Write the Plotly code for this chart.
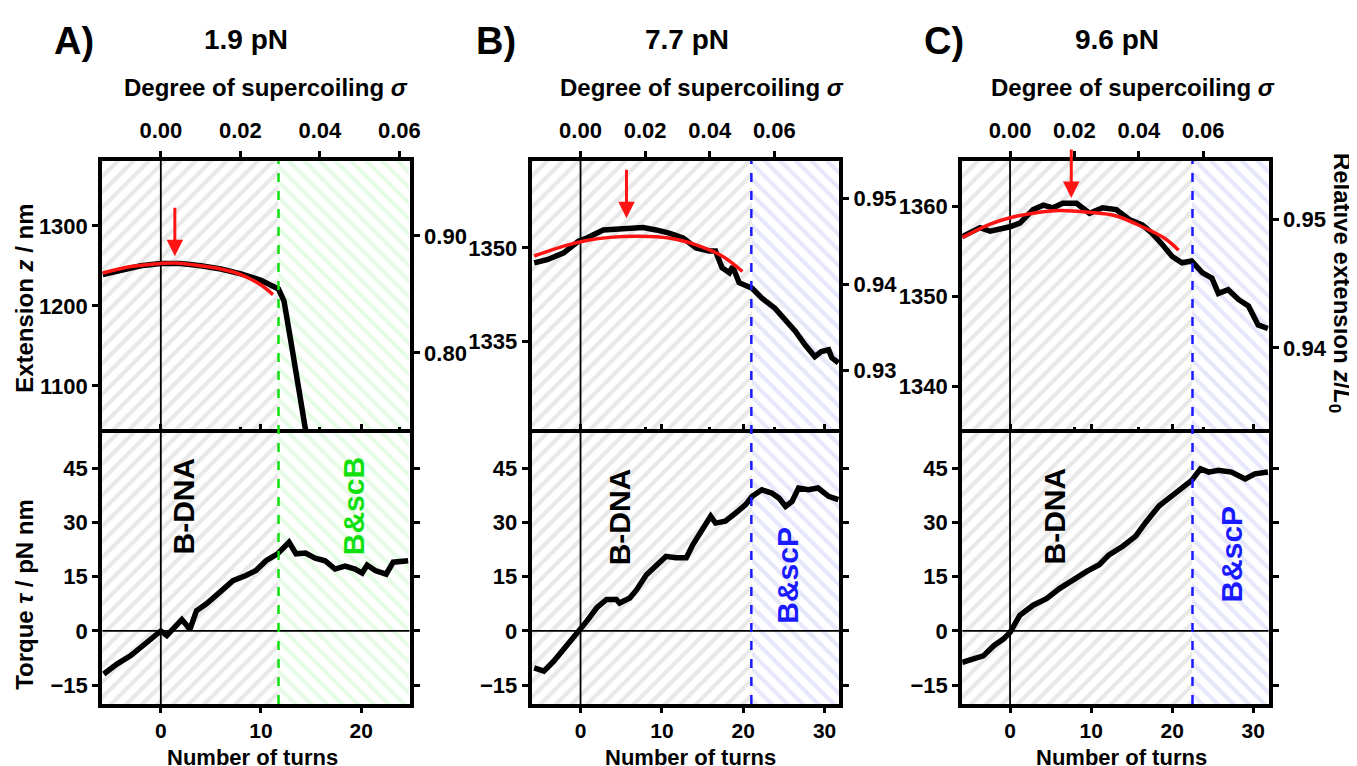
import plotly.graph_objects as go

# ---------------- data ----------------
# Panel A, 1.9 pN
A_ext_turns = [-5.8, -4, -2, 0, 2, 4, 6, 8, 10, 11.75, 12.3, 13.1, 13.8, 14.5]
A_ext_z = [1239, 1245, 1250, 1253, 1253, 1250, 1246, 1240, 1232, 1221, 1206, 1147, 1097, 1041]
A_fit_turns = [-5.8, -3, 0, 1.4, 4, 6, 8, 10, 11.2]
A_fit_z = [1241, 1249, 1253, 1253.5, 1250, 1246, 1239, 1226, 1214]
A_tq_turns = [-5.7, -4.35, -3.0, -2.05, -0.73, 0, 0.6, 1.25, 2.1, 2.6, 2.9, 3.56, 4.55, 5.9, 7.2,
              8.5, 9.5, 10.5, 11.65, 12.8, 13.5, 14.45, 15.4, 16.4, 17.4, 18.4, 19.4, 20.1, 20.6,
              21.4, 22.5, 23.2, 24.0, 24.7]
A_tq = [-11.9, -9.1, -6.8, -4.5, -1.7, 0, -1.3, 0.5, 3.1, 1.5, 0.4, 5.6, 7.5, 10.7, 13.9,
        15.3, 16.7, 19.4, 21.3, 24.5, 21.3, 21.5, 20.1, 19.4, 17.1, 17.9, 17.1, 16.0, 18.2,
        16.7, 15.7, 19.0, 19.4, 19.4]

# Panel B, 7.7 pN
B_ext_turns = [-5.7, -4.1, -2.07, -0.24, 0.77, 2.8, 5.2, 7.7, 9.3, 10.9, 12.6, 14.2, 15.8, 16.6,
               17.4, 18.3, 18.7, 19.5, 21.1, 22.3, 23.9, 25.2, 26.4, 27.6, 28.8, 29.6, 30.5,
               30.9, 31.7]
B_ext_z = [1347.6, 1348.1, 1349.2, 1351.1, 1351.6, 1352.9, 1353.1, 1353.3, 1352.9, 1352.4,
           1351.6, 1350.0, 1349.5, 1349.5, 1346.8, 1346.0, 1347.0, 1344.4, 1343.5, 1341.9,
           1340.3, 1338.4, 1336.6, 1334.4, 1332.5, 1333.3, 1333.6, 1332.3, 1331.5]
B_fit_turns = [-5.7, -2.07, 0.77, 3.6, 7.2, 10.9, 14.2, 17.4, 19.9]
B_fit_z = [1348.7, 1350.3, 1351.2, 1351.7, 1351.9, 1351.6, 1350.5, 1348.7, 1346.2]
B_tq_turns = [-5.7, -4.5, -3.3, -2.07, -0.85, 0, 0.77, 2.0, 3.2, 4.4, 4.8, 6.06, 6.9, 8.1, 9.3,
              10.5, 11.7, 13.0, 13.8, 15.0, 16.0, 16.6, 17.8, 19.1, 20.3, 21.1, 22.3, 23.5,
              24.4, 25.2, 26.0, 26.8, 28.0, 29.2, 30.5, 31.7]
B_tq = [-10.2, -11.1, -8.4, -5.2, -1.9, 0.4, 2.7, 6.4, 8.7, 8.7, 7.7, 9.1, 11.4, 15.5, 17.9,
        20.6, 20.2, 20.2, 23.8, 28.5, 31.7, 29.8, 30.3, 32.6, 34.9, 37.2, 39.0, 38.1, 36.7,
        34.4, 35.8, 39.5, 39.0, 39.5, 37.2, 36.3]

# Panel C, 9.6 pN
C_ext_turns = [-5.9, -3.7, -2.45, -1.2, 0, 1.2, 2.85, 4.1, 5.3, 6.5, 8.2, 9.8, 11.4, 13.1, 14.7,
               16.3, 17.5, 18.8, 20.0, 21.2, 22.4, 23.7, 24.9, 25.7, 26.9, 28.2, 29.4, 30.6, 31.8]
C_ext_z = [1356.6, 1357.6, 1357.2, 1357.4, 1357.7, 1358.1, 1359.6, 1360.1, 1359.8, 1360.3,
           1360.3, 1359.2, 1359.8, 1359.6, 1358.5, 1357.9, 1357.0, 1355.7, 1354.4, 1353.7,
           1353.9, 1352.6, 1352.0, 1350.3, 1350.7, 1349.6, 1348.9, 1346.8, 1346.4]
C_fit_turns = [-5.9, -2.45, 0, 2.85, 6.1, 9.8, 13.1, 16.3, 19.1, 20.8]
C_fit_z = [1356.5, 1358.0, 1358.7, 1359.2, 1359.5, 1359.3, 1358.9, 1357.7, 1356.4, 1355.1]
C_tq_turns = [-5.9, -4.5, -3.3, -2.0, -0.8, 0, 1.2, 2.85, 4.5, 6.1, 7.75, 9.4, 11.0, 12.2, 13.9,
              15.5, 16.7, 18.4, 20.0, 21.2, 22.4, 23.5, 24.5, 25.7, 27.3, 29.0, 30.2, 31.8]
C_tq = [-8.7, -7.8, -6.9, -4.1, -2.2, -0.4, 4.3, 7.1, 8.9, 11.7, 14.1, 16.4, 18.3, 21.0, 23.4,
        26.2, 29.9, 34.6, 37.4, 39.7, 41.6, 44.8, 43.9, 44.4, 43.9, 42.0, 43.4, 43.9]

forces = ["1.9 pN", "7.7 pN", "9.6 pN"]
letters = ["A)", "B)", "C)"]
transition_turns = [11.75, 21.0, 22.5]
phase_labels = ["B&scB", "B&scP", "B&scP"]
phase_colors = ["#10e010", "#1a1aff", "#1a1aff"]
hatch_colors = ["#cdf7cd", "#cfcff8", "#cfcff8"]
arrow_turns = [1.4, 5.65, 7.55]
arrow_z = [1262, 1354.8, 1360.9]
bdna_pos = [(2.25, 34.5), (4.9, 31.5), (5.5, 31.8)]
phase_pos = [(19.2, 34.5), (25.5, 15.5), (27.3, 21.2)]

sigma_ticks = [0.00, 0.02, 0.04, 0.06]
turn_ticks = [[0, 10, 20], [0, 10, 20, 30], [0, 10, 20, 30]]
z_ticks = [[1100, 1200, 1300], [1335, 1350], [1340, 1350, 1360]]
rel_ticks = [[0.80, 0.90], [0.93, 0.94, 0.95], [0.94, 0.95]]
torque_ticks = [-15, 0, 15, 30, 45]
TURNS_PER_SIGMA = 397.0

# ---------------- layout constants ----------------
W, H = 1357, 766
x_ranges = [[-5.85, 24.85], [-6.0, 31.8], [-5.9, 31.9]]
z_ranges = [[1041, 1381], [1320.2, 1364], [1334.8, 1365]]
rel_ranges = [[0.7316, 0.964], [0.9227, 0.9543], [0.9334, 0.9545]]
tq_range = [-20.2, 54.7]
x_doms = [[95 / W, 405 / W], [528 / W, 838 / W], [962 / W, 1271 / W]]
top_dom = [1 - 425 / H, 1 - 153 / H]
bot_dom = [1 - 696 / H, 1 - 425 / H]

TF = "Liberation Sans, Arial, sans-serif"
TICKFONT = dict(family=TF, size=22, color="black", weight="bold")
BOTTOM_TICKFONT = dict(family=TF, size=21, color="black", weight="bold")
LW = 4

ext_t = [A_ext_turns, B_ext_turns, C_ext_turns]
ext_z = [A_ext_z, B_ext_z, C_ext_z]
fit_t = [A_fit_turns, B_fit_turns, C_fit_turns]
fit_z = [A_fit_z, B_fit_z, C_fit_z]
tq_t = [A_tq_turns, B_tq_turns, C_tq_turns]
tq_v = [A_tq, B_tq, C_tq]

fig = go.Figure()
layout = {}
annotations = []
shapes = []


def axname(kind, n):
    return f"{kind}axis" if n == 1 else f"{kind}axis{n}"


def ref(kind, n):
    return kind if n == 1 else f"{kind}{n}"


def ref_line(xs_, ys_, xa, ya):
    return go.Scatter(x=xs_, y=ys_, mode="lines", line=dict(color="black", width=1.8),
                      xaxis=ref("x", xa), yaxis=ref("y", ya), showlegend=False,
                      hoverinfo="skip")


for p in range(3):
    b = 4 * p
    xt, xs, xb = b + 1, b + 2, b + 3
    yt, yr, yb = b + 1, b + 2, b + 3
    x0, x1 = x_ranges[p]
    tr = transition_turns[p]

    # hatched backgrounds (bars spanning the axis ranges)
    for (xa, ya, yrng) in [(xt, yt, z_ranges[p]), (xb, yb, tq_range)]:
        fig.add_trace(go.Bar(
            x=[(x0 + tr) / 2], y=[yrng[1] - yrng[0]], base=[yrng[0]], width=[tr - x0],
            marker=dict(color="rgba(255,255,255,0)", line=dict(width=0),
                        pattern=dict(shape="/", fgcolor="#d2d2d2", bgcolor="rgba(0,0,0,0)",
                                     size=11, solidity=0.38)),
            xaxis=ref("x", xa), yaxis=ref("y", ya), showlegend=False, hoverinfo="skip"))
        fig.add_trace(go.Bar(
            x=[(tr + x1) / 2], y=[yrng[1] - yrng[0]], base=[yrng[0]], width=[x1 - tr],
            marker=dict(color="rgba(255,255,255,0)", line=dict(width=0),
                        pattern=dict(shape="\\", fgcolor=hatch_colors[p], bgcolor="rgba(0,0,0,0)",
                                     size=11, solidity=0.38)),
            xaxis=ref("x", xa), yaxis=ref("y", ya), showlegend=False, hoverinfo="skip"))
        # zero turns reference line
        fig.add_trace(ref_line([0, 0], yrng, xa, ya))
    # zero torque reference line
    fig.add_trace(ref_line([x0, x1], [0, 0], xb, yb))

    # extension data
    fig.add_trace(go.Scatter(x=ext_t[p], y=ext_z[p], mode="lines",
                             line=dict(color="black", width=5.5),
                             xaxis=ref("x", xt), yaxis=ref("y", yt), showlegend=False))
    fig.add_trace(go.Scatter(x=fit_t[p], y=fit_z[p], mode="lines",
                             line=dict(color="#ff1414", width=3.5, shape="spline"),
                             xaxis=ref("x", xt), yaxis=ref("y", yt), showlegend=False))
    # torque data
    fig.add_trace(go.Scatter(x=tq_t[p], y=tq_v[p], mode="lines",
                             line=dict(color="black", width=5.5),
                             xaxis=ref("x", xb), yaxis=ref("y", yb), showlegend=False))
    # helper so the overlay axes (sigma / relative extension) render
    fig.add_trace(go.Scatter(x=[], y=[], xaxis=ref("x", xs), yaxis=ref("y", yr),
                             showlegend=False, hoverinfo="skip"))

    common = dict(showgrid=False, zeroline=False, color="black", linecolor="black",
                  linewidth=LW, tickfont=TICKFONT, tickwidth=2.5, ticklen=6, showline=True)
    # top subplot turns axis (hidden labels, inside sigma ticks at bottom)
    layout[axname("x", xt)] = dict(common, domain=x_doms[p], range=[x0, x1], anchor=ref("y", yt),
                                   showline=False, ticks="inside",
                                   tickvals=[s * TURNS_PER_SIGMA for s in sigma_ticks],
                                   showticklabels=False)
    layout[axname("x", xs)] = dict(common, overlaying=ref("x", xt), side="top",
                                   anchor=ref("y", yt),
                                   range=[x0 / TURNS_PER_SIGMA, x1 / TURNS_PER_SIGMA],
                                   tickvals=sigma_ticks, tickformat=".2f", ticks="outside",
                                   ticklabelstandoff=4)
    layout[axname("x", xb)] = dict(common, domain=x_doms[p], range=[x0, x1], anchor=ref("y", yb),
                                   mirror="ticks", ticks="outside", tickvals=turn_ticks[p],
                                   ticklen=5, tickfont=BOTTOM_TICKFONT)
    layout[axname("y", yt)] = dict(common, domain=top_dom, range=z_ranges[p], anchor=ref("x", xt),
                                   ticks="outside", tickvals=z_ticks[p])
    layout[axname("y", yr)] = dict(common, overlaying=ref("y", yt), side="right",
                                   anchor=ref("x", xt), range=rel_ranges[p],
                                   tickvals=rel_ticks[p], tickformat=".2f", ticks="outside")
    layout[axname("y", yb)] = dict(common, domain=bot_dom, range=tq_range, anchor=ref("x", xb),
                                   mirror="ticks", ticks="outside", tickvals=torque_ticks)

    # transition dashed line through both subplots
    shapes.append(dict(type="line", xref=ref("x", xb), yref="paper", x0=tr, x1=tr,
                       y0=bot_dom[0], y1=top_dom[1], layer="above",
                       line=dict(color=phase_colors[p], width=2.5, dash="dash")))

    # red arrow at the maximum
    annotations.append(dict(x=arrow_turns[p], y=arrow_z[p], xref=ref("x", xt), yref=ref("y", yt),
                            text="", showarrow=True, arrowhead=2, arrowsize=1.1, arrowwidth=3,
                            arrowcolor="#ff1414", ax=0, ay=-50))
    # phase labels
    annotations.append(dict(x=bdna_pos[p][0], y=bdna_pos[p][1], xref=ref("x", xb),
                            yref=ref("y", yb), text="<b>B-DNA</b>", showarrow=False,
                            textangle=-90, xanchor="center", yanchor="middle",
                            font=dict(family=TF, size=30, color="black")))
    annotations.append(dict(x=phase_pos[p][0], y=phase_pos[p][1], xref=ref("x", xb),
                            yref=ref("y", yb), text=f"<b>{phase_labels[p]}</b>",
                            showarrow=False, textangle=-90, xanchor="center", yanchor="middle",
                            font=dict(family=TF, size=30, color=phase_colors[p])))

# text in paper coordinates
letter_x = [67, 492, 944]
force_x = [240, 685, 1118]
sigma_x = [260, 700, 1134]
turns_x = [246, 688, 1123]


def paper_text(px, py, text, size, angle=0):
    return dict(x=px / W, y=1 - py / H, xref="paper", yref="paper", xanchor="center",
                yanchor="middle", text=text, showarrow=False, textangle=angle,
                font=dict(family=TF, size=size, color="black"))


for p in range(3):
    annotations.append(paper_text(letter_x[p], 33, f"<b>{letters[p]}</b>", 38))
    annotations.append(paper_text(force_x[p], 32, f"<b>{forces[p]}</b>", 28))
    annotations.append(paper_text(sigma_x[p], 79, "<b>Degree of supercoiling <i>σ</i></b>", 24))
    annotations.append(paper_text(turns_x[p], 749, "<b>Number of turns</b>", 22))

annotations.append(paper_text(16, 290, "<b>Extension <i>z</i> / nm</b>", 24, -90))
annotations.append(paper_text(16, 586, "<b>Torque <i>τ</i> / pN nm</b>", 24, -90))
annotations.append(paper_text(1343, 275, "<b>Relative extension <i>z</i>/<i>L</i><sub>0</sub></b>",
                              24, 90))

fig.update_layout(width=W, height=H, margin=dict(l=0, r=0, t=0, b=0),
                  paper_bgcolor="white", plot_bgcolor="white", barmode="overlay",
                  bargap=0, showlegend=False, annotations=annotations, shapes=shapes,
                  **layout)

fig.write_html("out.html")
